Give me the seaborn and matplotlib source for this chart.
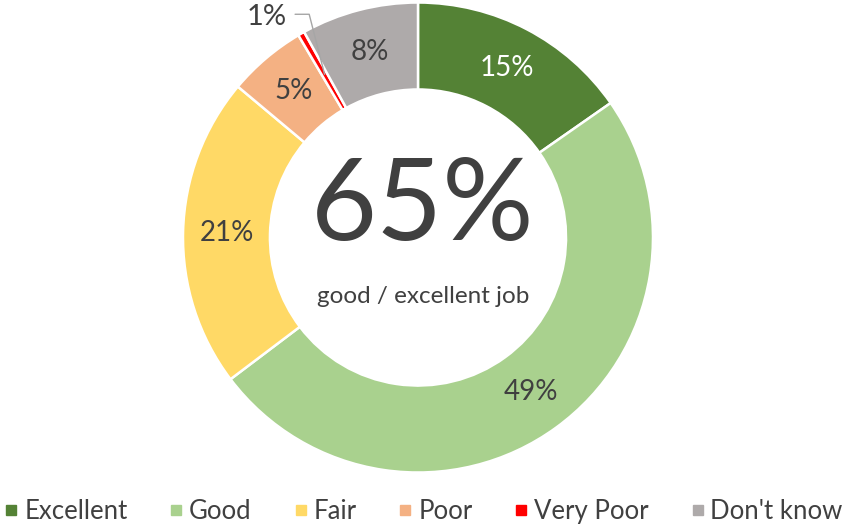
import matplotlib
matplotlib.use("Agg")
import matplotlib.pyplot as plt
import seaborn as sns
import numpy as np
from matplotlib.lines import Line2D

# Survey answers (share of respondents, %)
categories = ["Excellent", "Good", "Fair", "Poor", "Very Poor", "Don't know"]
values = [15.3, 49.4, 21.4, 5.4, 0.45, 8.05]
colors = ["#548235", "#A9D18E", "#FFD966", "#F4B183", "#FF0000", "#AEAAAA"]
center_value = "65%"
center_text = "good / excellent job"

sns.set_theme(style="white")
plt.rcParams['font.family'] = ['Lato', 'DejaVu Sans']
text_color = "#404040"

fig = plt.figure(figsize=(8.44, 5.26), dpi=100)
ax = fig.add_axes([0.2168, 0.1017, 0.5569, 0.8935])

hole = 0.63
wedges, texts, autotexts = ax.pie(
    values, colors=colors, startangle=90, counterclock=False, radius=1,
    autopct=lambda p: f"{p:.0f}%" if p >= 1 else "1%", pctdistance=(1 + hole) / 2,
    wedgeprops=dict(width=1 - hole, edgecolor="white", linewidth=1.8),
    textprops=dict(fontsize=20, color=text_color))
ax.set_xlim(-1, 1)
ax.set_ylim(-1, 1)
ax.set_aspect("equal")
ax.axis("off")

autotexts[0].set_color("white")

# small slice label sits outside with a leader line
i_small = categories.index("Very Poor")
w = wedges[i_small]
mid = np.deg2rad((w.theta1 + w.theta2) / 2)
r_mid = 0.8
end = (r_mid * np.cos(mid), r_mid * np.sin(mid))
lab = (-0.643, 0.94)
autotexts[i_small].set_position(lab)
autotexts[i_small].set_fontsize(21)
ax.add_line(Line2D([lab[0] + 0.12, lab[0] + 0.18, end[0]],
                   [lab[1] + 0.01, lab[1] + 0.01, end[1]],
                   color="#A6A6A6", lw=1.0, clip_on=False))

ax.text(0.02, 0.125, center_value, ha="center", va="center",
        fontsize=82, color=text_color)
ax.text(0.02, -0.25, center_text, ha="center", va="center",
        fontsize=17.5, color=text_color)

handles = [Line2D([0], [0], marker="s", color="none", markerfacecolor=c,
                  markeredgecolor=c, markersize=7.2) for c in colors]
fig.legend(handles, categories, loc="center", bbox_to_anchor=(0.503, 0.027),
           ncol=6, frameon=False, fontsize=18.5, handlelength=0.4,
           handletextpad=0.3, columnspacing=1.7, borderpad=0.1,
           labelcolor=text_color)

fig.savefig("out.png", dpi=100)
